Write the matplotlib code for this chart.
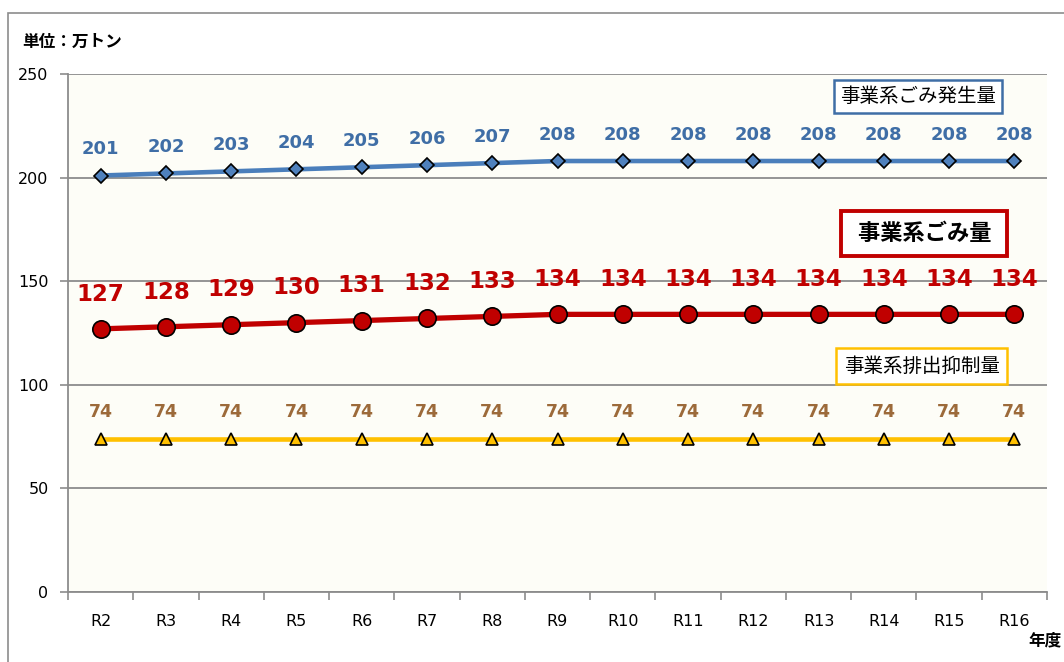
import numpy as np
import matplotlib.pyplot as plt
from matplotlib.patches import Rectangle

plt.rcParams['font.family'] = ['Noto Sans CJK JP', 'DejaVu Sans']

# data
years = ["R2", "R3", "R4", "R5", "R6", "R7", "R8", "R9", "R10", "R11", "R12", "R13", "R14", "R15", "R16"]
generated = [201, 202, 203, 204, 205, 206, 207, 208, 208, 208, 208, 208, 208, 208, 208]
waste = [127, 128, 129, 130, 131, 132, 133, 134, 134, 134, 134, 134, 134, 134, 134]
reduced = [74, 74, 74, 74, 74, 74, 74, 74, 74, 74, 74, 74, 74, 74, 74]

fig = plt.figure(figsize=(10.64, 6.62), dpi=100)
ax = fig.add_axes([68 / 1064, 1 - 592 / 662, (1047 - 68) / 1064, (592 - 74) / 662])
ax.set_facecolor("#FDFDF7")

# outer frame (runs off the right and bottom edges)
fig.patches.append(Rectangle((8 / 1064, -0.1), 1.2, 1 - 13 / 662 + 0.1, transform=fig.transFigure,
                             fill=False, edgecolor="#8C8C8C", linewidth=1.2))

x = np.arange(len(years))

ax.plot(x, generated, color="#4A7EBB", linewidth=3.3, marker="D", markersize=7,
        markerfacecolor="#4F81BD", markeredgecolor="black", markeredgewidth=1.2, zorder=3)
ax.plot(x, waste, color="#C00000", linewidth=3.8, marker="o", markersize=12.5,
        markerfacecolor="#C00000", markeredgecolor="black", markeredgewidth=1.2, zorder=3)
ax.plot(x, reduced, color="#FFC000", linewidth=3.3, marker="^", markersize=8,
        markerfacecolor="#FFC000", markeredgecolor="black", markeredgewidth=1.2, zorder=3)

# data labels
for i in x:
    ax.annotate(str(generated[i]), (i, generated[i]), xytext=(0, 19), textcoords="offset points",
                ha="center", va="center", fontsize=13, fontweight="bold", color="#3F6EA6",
                family="DejaVu Sans")
    ax.annotate(str(waste[i]), (i, waste[i]), xytext=(0, 25), textcoords="offset points",
                ha="center", va="center", fontsize=16.5, fontweight="bold", color="#C00000",
                family="DejaVu Sans")
    ax.annotate(str(reduced[i]), (i, reduced[i]), xytext=(0, 19), textcoords="offset points",
                ha="center", va="center", fontsize=12.5, fontweight="bold", color="#9C6A3A",
                family="DejaVu Sans")

ax.set_xlim(-0.5, len(years) - 0.5)
ax.set_ylim(0, 250)
ax.set_yticks([0, 50, 100, 150, 200, 250])
ax.set_xticks(x)
ax.set_xticklabels(years, family="DejaVu Sans")
ax.set_xticks(np.arange(-0.5, len(years), 1), minor=True)
ax.tick_params(axis="x", which="major", length=0, pad=16, labelsize=11.5)
ax.tick_params(axis="x", which="minor", length=6, color="#8C8C8C", width=1.2)
ax.tick_params(axis="y", length=6, color="#8C8C8C", width=1.2, labelsize=11.5, pad=8)
for lbl in ax.get_yticklabels():
    lbl.set_family("DejaVu Sans")

ax.grid(axis="y", color="#8C8C8C", linewidth=1.3)
ax.set_axisbelow(True)
for side in ["top", "right"]:
    ax.spines[side].set_visible(False)
for side in ["left", "bottom"]:
    ax.spines[side].set_color("#8C8C8C")
    ax.spines[side].set_linewidth(1.3)

# series labels in boxes
ax.text(12.52, 239, "事業系ごみ発生量", ha="center", va="center", fontsize=14,
        bbox=dict(boxstyle="square,pad=0.3", facecolor="white", edgecolor="#3F6EA6", linewidth=1.8))
ax.text(12.62, 173, " 事業系ごみ量 ", ha="center", va="center", fontsize=16, fontweight="bold",
        bbox=dict(boxstyle="square,pad=0.5", facecolor="white", edgecolor="#C00000", linewidth=2.8))
ax.text(12.58, 109, "事業系排出抑制量", ha="center", va="center", fontsize=14,
        bbox=dict(boxstyle="square,pad=0.4", facecolor="white", edgecolor="#FFC000", linewidth=1.8))

fig.text(22 / 1064, 1 - 42 / 662, "単位：万トン", ha="left", va="center", fontsize=12, fontweight="bold")
fig.text(1062 / 1064, 1 - 640 / 662, "年度", ha="right", va="center", fontsize=12, fontweight="bold")

fig.savefig("out.png", dpi=100)
